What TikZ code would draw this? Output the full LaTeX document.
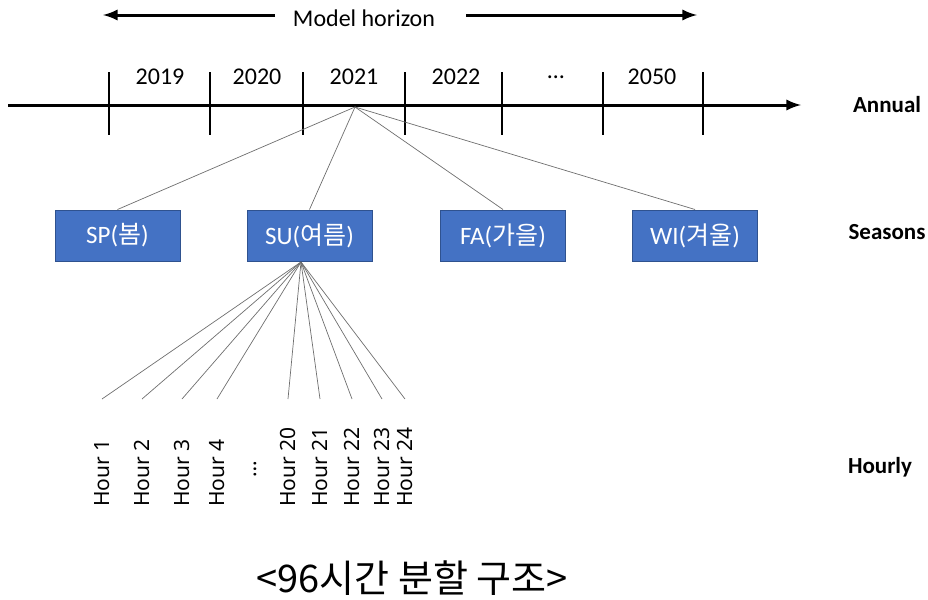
\documentclass[tikz,border=0pt]{standalone}
\usepackage{fontspec}
\setmainfont{Carlito}
\newfontfamily\krfont{Noto Sans CJK KR}
\newfontfamily\hourfont{Noto Sans}
\usetikzlibrary{arrows,positioning}
\definecolor{seasoncol}{RGB}{68,114,196}
\definecolor{seasonedge}{RGB}{47,82,143}
\definecolor{fancol}{RGB}{110,110,110}
\tikzset{
  axis/.style     = {line width=1.5pt, draw=black},
  tick/.style     = {line width=1.2pt, draw=black},
  horizon/.style  = {-latex, line width=1.5pt, draw=black},
  fan/.style      = {line width=0.35pt, draw=fancol},
  yearlab/.style  = {font=\fontsize{12}{14}\selectfont, inner sep=0pt},
  levellab/.style = {font=\fontsize{11.5}{14}\selectfont\bfseries, inner sep=0pt},
  season/.style   = {rectangle, draw=seasonedge, line width=0.5pt, fill=seasoncol,
                     text=white, minimum width=62.5pt, minimum height=25.5pt,
                     font=\fontsize{12.5}{14}\selectfont, inner sep=0pt},
  hourlab/.style  = {rotate=90, anchor=west, inner sep=0pt,
                     font=\hourfont\fontsize{10.5}{12}\selectfont},
}
\begin{document}
\begin{tikzpicture}[x=0.5pt, y=-0.5pt]
  \useasboundingbox (0,0) rectangle (928,600);

  % model horizon
  \node[yearlab] (mh) at (364,18) {Model horizon};
  \coordinate (mhl) at (103,15);
  \coordinate (mhr) at (697,15);
  \draw[horizon] (275,15) -- (mhl);
  \draw[horizon] (466,15) -- (mhr);

  % annual axis
  \coordinate (a0) at (8,105);
  \coordinate (a1) at (801,105);
  \draw[axis, -latex] (a0) -- (a1);
  \foreach \x in {109,210,303,405,502,603,703}
    \draw[tick] (\x,72) -- (\x,135);
  \foreach \x/\t in {160/2019, 257/2020, 354/2021, 456/2022, 556/\dots, 652/2050}
    \node[yearlab] at (\x,77) {\t};
  \node[levellab] (annual) at (887,105) {Annual};

  % seasons
  \node[season] (sp) at (117.5,235.5) {SP({\krfont 봄})};
  \node[season] (su) at (309.5,235.5) {SU({\krfont 여름})};
  \node[season] (fa) at (503,235.5) {FA({\krfont 가을})};
  \node[season] (wi) at (695,235.5) {WI({\krfont 겨울})};
  \node[levellab] (seasons) at (887,232) {Seasons};

  \coordinate (y21) at (355,107);
  \foreach \s in {sp,su,fa,wi} \draw[fan] (y21) -- (\s.north);

  % hours
  \coordinate (hub) at (301,262);
  \foreach \x/\t [count=\i] in {102/1, 142/2, 182/3, 217/4, 288/20, 320/21, 352/22, 382/23, 405/24} {
    \node[hourlab] (h\i) at (\x,507) {Hour \t};
    \coordinate (e\i) at (\x,399);
    \draw[fan] (hub) -- (e\i);
  }
  \node[hourlab] (hdots) at (255,478) {\dots};
  \node[levellab] (hourly) at (880,467) {Hourly};

  % caption
  \node[font=\krfont\fontsize{19}{21}\selectfont, inner sep=0pt] (cap) at (412,578)
       {<96시간 분할 구조>};
\end{tikzpicture}
\end{document}
